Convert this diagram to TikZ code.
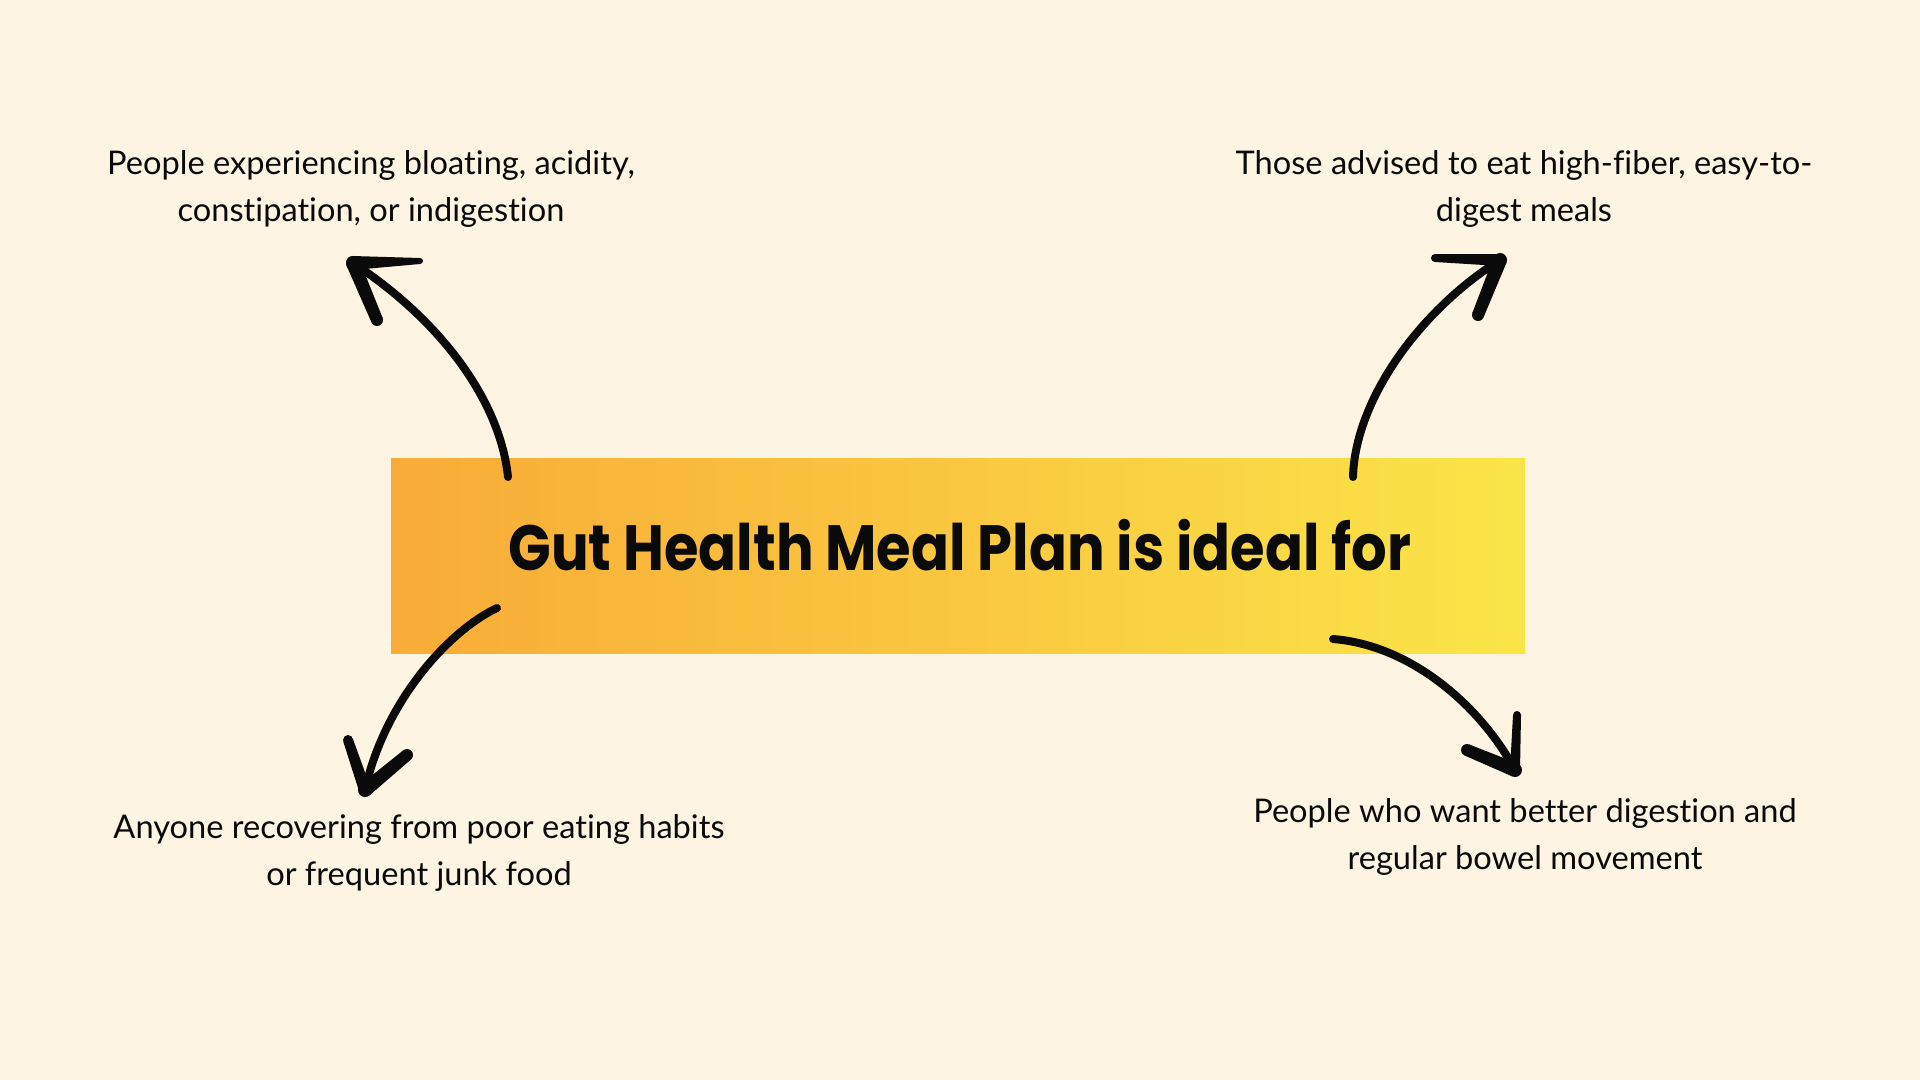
\documentclass[tikz,border=0pt]{standalone}
\usepackage{fontspec}
\usepackage{graphicx}
\setmainfont{Lato}[Ligatures=NoCommon]
\newfontfamily\titlefont{Poppins}
\usetikzlibrary{calc}
\definecolor{bg}{HTML}{FDF4E2}
\definecolor{gleft}{HTML}{F9AB37}
\definecolor{gright}{HTML}{FAE548}
\definecolor{ink}{HTML}{0A0A0A}
\newcommand\brushstroke[4]{%
  \fill[ink] ($(#1)!#3!90:(#2)$) -- ($(#2)!#4!-90:(#1)$) -- ($(#2)!#4!90:(#1)$) -- ($(#1)!#3!-90:(#2)$) -- cycle;
  \fill[ink] (#1) circle[radius=#3];
  \fill[ink] (#2) circle[radius=#4];}
\tikzset{
  labeltext/.style={align=center, font=\fontsize{16.3pt}{23.5pt}\selectfont, text=ink, inner sep=0pt},
  shaft/.style={line width=4pt, line cap=round, draw=ink},
  banner/.style={minimum width=567pt, minimum height=97.5pt, inner sep=0pt, left color=gleft, right color=gright, draw=none},
}
\begin{document}
\begin{tikzpicture}[x=0.5pt, y=-0.5pt]
\useasboundingbox (0,0) rectangle (1920,1080);
\fill[bg] (0,0) rectangle (1920,1080);

% central banner
\node[banner] (box) at (958,555.5) {};
\node[anchor=base, inner sep=0pt, text=ink] (title) at (960,570)
  {\resizebox{451.5pt}{\height}{\titlefont\bfseries\fontsize{32pt}{32pt}\selectfont Gut Health Meal Plan is ideal for}};

% labels
\node[labeltext] (tl) at (371,189) {People experiencing bloating, acidity,\\constipation, or indigestion};
\node[labeltext] (tr) at (1524,189) {Those advised to eat high-fiber, easy-to-\\digest meals};
\node[labeltext] (bl) at (419,853) {Anyone recovering from poor eating habits\\or frequent junk food};
\node[labeltext] (br) at (1525,837) {People who want better digestion and\\regular bowel movement};

% arrow anchor points
\coordinate (s1) at (508,477);  \coordinate (t1) at (353,263);
\coordinate (s2) at (1353,477); \coordinate (t2) at (1500,260);
\coordinate (s3) at (497,608);  \coordinate (t3) at (365,790);
\coordinate (s4) at (1333,639); \coordinate (t4) at (1515,770);
\coordinate (b1a) at (420,261); \coordinate (b1b) at (377,320);
\coordinate (b2a) at (1435,258); \coordinate (b2b) at (1478,315);
\coordinate (b3a) at (348,740); \coordinate (b3b) at (407,755);
\coordinate (b4a) at (1517,715); \coordinate (b4b) at (1467,750);

% shafts
\draw[shaft] (s1) .. controls (500,400) and (440,320) .. (t1);
\draw[shaft] (s2) .. controls (1355,400) and (1420,310) .. (t2);
\draw[shaft] (s3) .. controls (450,630) and (385,700) .. (t3);
\draw[shaft] (s4) .. controls (1410,645) and (1480,705) .. (t4);

% heads
\brushstroke{t1}{b1a}{3.5pt}{1.5pt}
\brushstroke{t1}{b1b}{3.5pt}{3pt}
\brushstroke{t2}{b2a}{3pt}{2pt}
\brushstroke{t2}{b2b}{3.5pt}{3pt}
\brushstroke{t3}{b3a}{3pt}{2.5pt}
\brushstroke{t3}{b3b}{3.5pt}{3pt}
\brushstroke{t4}{b4a}{2.5pt}{2pt}
\brushstroke{t4}{b4b}{3.5pt}{3pt}
\end{tikzpicture}
\end{document}
